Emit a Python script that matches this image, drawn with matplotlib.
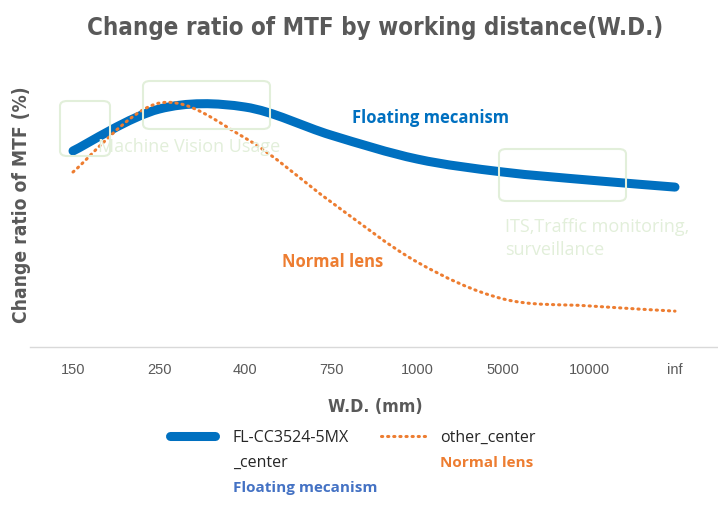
import matplotlib
matplotlib.use("Agg")
import matplotlib.pyplot as plt
from matplotlib.path import Path
from matplotlib.patches import PathPatch, FancyBboxPatch
from matplotlib.lines import Line2D
from matplotlib import font_manager as fm
import numpy as np

categories = ["150", "250", "400", "750", "1000", "5000", "10000", "inf"]
floating = [75.4, 91.5, 92.3, 81.5, 72.3, 67.3, 64.2, 61.5]
normal = [67.3, 93.8, 80.4, 55.8, 32.7, 18.5, 15.8, 13.8]

BLUE = "#0070C0"
ORANGE = "#ED7D31"
GRAY = "#595959"
GREEN_EDGE = "#E2EFDA"
GREEN_TEXT = "#E2EFDA"

W, H = 718, 506
fig = plt.figure(figsize=(W / 100, H / 100), dpi=100)

def fx(px):
    return px / W

def fy(py):
    return 1 - py / H

# heavy condensed font if available
cond_path = fm.findfont(fm.FontProperties(family="DejaVu Sans", stretch="condensed", weight="bold"))
has_cond = "Condensed" in cond_path
if has_cond:
    heavy = dict(family=["DejaVu Sans"], stretch="condensed", weight="bold")
    t_size, y_size, x_size = 17.3, 13.8, 12.7
else:
    heavy = dict(family=["DejaVu Sans"], weight="bold")
    t_size, y_size, x_size = 15.5, 12.5, 11.5

ax = fig.add_axes([fx(30), fy(348), fx(718) - fx(30), fy(88) - fy(348)])
ax.set_xlim(-0.5, 7.5)
ax.set_ylim(0, 100)
for s in ["top", "right", "left"]:
    ax.spines[s].set_visible(False)
ax.spines["bottom"].set_color("#D9D9D9")
ax.spines["bottom"].set_linewidth(1.0)
ax.set_yticks([])
ax.set_xticks(range(len(categories)))
ax.set_xticklabels(categories, fontsize=10.5, color=GRAY, family=["Liberation Sans", "DejaVu Sans"])
ax.tick_params(axis="x", length=0, pad=11)


def smooth_path(xs, ys):
    pts = np.column_stack([xs, ys]).astype(float)
    n = len(pts)
    verts = [pts[0]]
    codes = [Path.MOVETO]
    for i in range(n - 1):
        p0 = pts[i - 1] if i > 0 else pts[i]
        p1 = pts[i]
        p2 = pts[i + 1]
        p3 = pts[i + 2] if i + 2 < n else pts[i + 1]
        c1 = p1 + (p2 - p0) / 6.0
        c2 = p2 - (p3 - p1) / 6.0
        verts += [c1, c2, p2]
        codes += [Path.CURVE4] * 3
    return Path(verts, codes)

x = np.arange(len(categories))
ax.add_patch(PathPatch(smooth_path(x, floating), facecolor="none", edgecolor=BLUE,
                       linewidth=6.5, capstyle="round", joinstyle="round", zorder=3))
ax.add_patch(PathPatch(smooth_path(x, normal), facecolor="none", edgecolor=ORANGE,
                       linewidth=2.2, linestyle=(0, (0.4, 1.6)), capstyle="round", zorder=4))

# green boxes
for (x0, y0, x1, y1) in [(60, 102, 110, 157), (143, 82, 270, 130), (499, 150, 626, 202)]:
    fig.patches.append(FancyBboxPatch((fx(x0), fy(y1)), fx(x1) - fx(x0), fy(y0) - fy(y1),
                                      boxstyle="round,pad=0,rounding_size=0.01",
                                      transform=fig.transFigure, facecolor="none",
                                      edgecolor=GREEN_EDGE, linewidth=1.5, zorder=5))

body = ["Open Sans", "DejaVu Sans"]
fig.text(fx(98), fy(147), "Machine Vision Usage", fontsize=13, color=GREEN_TEXT, family=body,
         va="center", ha="left")
fig.text(fx(505), fy(227), "ITS,Traffic monitoring,", fontsize=13, color=GREEN_TEXT, family=body,
         va="center", ha="left")
fig.text(fx(505), fy(250), "surveillance", fontsize=13, color=GREEN_TEXT, family=body,
         va="center", ha="left")

fig.text(fx(352), fy(118), "Floating mecanism", fontsize=12, color=BLUE, family=body,
         weight="bold", va="center", ha="left")
fig.text(fx(282), fy(262), "Normal lens", fontsize=12, color=ORANGE, family=body,
         weight="bold", va="center", ha="left")

fig.text(fx(375), fy(28), "Change ratio of MTF by working distance(W.D.)", fontsize=t_size,
         color=GRAY, ha="center", va="center", **heavy)
fig.text(fx(22), fy(205), "Change ratio of MTF (%)", fontsize=y_size, color=GRAY,
         ha="center", va="center", rotation=90, **heavy)
fig.text(fx(375), fy(407), "W.D. (mm)", fontsize=x_size, color=GRAY,
         ha="center", va="center", **heavy)

# legend
fig.lines.append(Line2D([fx(170), fx(215)], [fy(437), fy(437)], transform=fig.transFigure,
                        color=BLUE, linewidth=6.5, solid_capstyle="round"))
fig.text(fx(233), fy(438), "FL-CC3524-5MX", fontsize=11.5, color="#262626", family=body,
         va="center", ha="left")
fig.text(fx(233), fy(463), "_center", fontsize=11.5, color="#262626", family=body,
         va="center", ha="left")
fig.text(fx(233), fy(488), "Floating mecanism", fontsize=11, color="#4472C4", family=body,
         weight="bold", va="center", ha="left")
fig.lines.append(Line2D([fx(381), fx(429)], [fy(437), fy(437)], transform=fig.transFigure,
                        color=ORANGE, linewidth=2.2, linestyle=(0, (0.4, 1.6)),
                        dash_capstyle="round"))
fig.text(fx(440), fy(438), "other_center", fontsize=11.5, color="#262626", family=body,
         va="center", ha="left")
fig.text(fx(440), fy(463), "Normal lens", fontsize=11, color=ORANGE, family=body,
         weight="bold", va="center", ha="left")

fig.savefig("out.png", dpi=100, facecolor="white")
